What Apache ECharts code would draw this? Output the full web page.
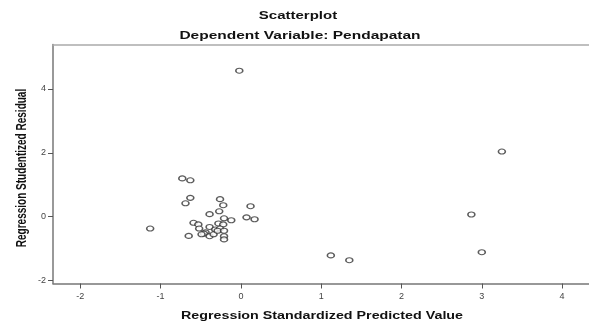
<!DOCTYPE html>
<html>
<head>
<meta charset="utf-8">
<script src="https://cdn.jsdelivr.net/npm/echarts@6/dist/echarts.min.js"></script>
<style>
  html, body { margin: 0; padding: 0; background: #fff; }
  #chart { width: 589px; height: 325px; }
</style>
</head>
<body>
<div id="chart"></div>
<script>
// predicted values (x) and studentized residuals (y)
const predicted = [
  -0.02, 3.25, 2.87, 3.00, 1.12, 1.35, -1.13,
  -0.73, -0.63, -0.63, -0.69, -0.26, -0.22, -0.27, 0.12, -0.39,
  0.07, 0.17, -0.21, -0.12, -0.59, -0.53, -0.28, -0.22, -0.52,
  -0.39, -0.32, -0.26, -0.44, -0.46, -0.39, -0.34, -0.29, -0.21,
  -0.21, -0.21, -0.65, -0.49
];
const residual = [
  4.57, 2.04, 0.07, -1.11, -1.21, -1.36, -0.37,
  1.20, 1.14, 0.59, 0.42, 0.55, 0.36, 0.17, 0.33, 0.08,
  -0.02, -0.08, -0.05, -0.11, -0.19, -0.24, -0.21, -0.24, -0.37,
  -0.32, -0.40, -0.37, -0.49, -0.53, -0.61, -0.55, -0.44, -0.44,
  -0.61, -0.71, -0.60, -0.55
];
const xTicks = [-2, -1, 0, 1, 2, 3, 4];
const yTicks = [-2, 0, 2, 4];

const points = predicted.map((v, i) => [v, residual[i]]);

const chart = echarts.init(document.getElementById("chart"));
const font = "Liberation Sans, Arial, sans-serif";

// the SPSS picture is stretched sideways, so texts get a scaleX
function label(text, x, y, sx, sy, rot) {
  return {
    type: "text",
    x: x,
    y: y,
    rotation: rot || 0,
    scaleX: sx,
    scaleY: sy,
    style: {
      text: text,
      font: "bold 10px " + font,
      fill: "#111",
      align: "center",
      verticalAlign: "middle"
    }
  };
}

const option = {
  backgroundColor: "#fff",
  animation: false,
  grid: {
    left: 53,
    top: 44.5,
    right: 0,
    height: 239,
    show: false
  },
  xAxis: [
    {
      type: "value",
      min: -2.34,
      max: 4.335,
      splitLine: { show: false },
      axisLine: { onZero: false, lineStyle: { color: "#777", width: 1.5 } },
      axisTick: { show: true, length: 5, customValues: xTicks, lineStyle: { color: "#555" } },
      axisLabel: {
        customValues: xTicks,
        margin: 9,
        fontFamily: font,
        fontSize: 9,
        color: "#444"
      }
    },
    {
      // top frame line only
      type: "value",
      position: "top",
      min: -2.34,
      max: 4.335,
      splitLine: { show: false },
      axisLine: { onZero: false, lineStyle: { color: "#aaa", width: 1.5 } },
      axisTick: { show: false },
      axisLabel: { show: false }
    }
  ],
  yAxis: {
    type: "value",
    min: -2.09,
    max: 5.39,
    splitLine: { show: false },
    axisLine: { onZero: false, lineStyle: { color: "#777", width: 1.5 } },
    axisTick: { show: true, length: 5, customValues: yTicks, lineStyle: { color: "#555" } },
    axisLabel: {
      customValues: yTicks,
      margin: 7,
      fontFamily: font,
      fontSize: 9,
      color: "#444"
    }
  },
  graphic: [
    label("Scatterplot", 298, 16.5, 1.5, 1),
    label("Dependent Variable: Pendapatan", 300, 36, 1.55, 1),
    label("Regression Standardized Predicted Value", 322, 316, 1.43, 1),
    label("Regression Studentized Residual", 22, 168, 1, 1.4, Math.PI / 2)
  ],
  series: [
    {
      type: "scatter",
      data: points,
      symbol: "circle",
      symbolSize: [7, 5],
      itemStyle: {
        color: "#fff",
        borderColor: "#333",
        borderWidth: 1.3
      }
    }
  ]
};
chart.setOption(option);
</script>
</body>
</html>
